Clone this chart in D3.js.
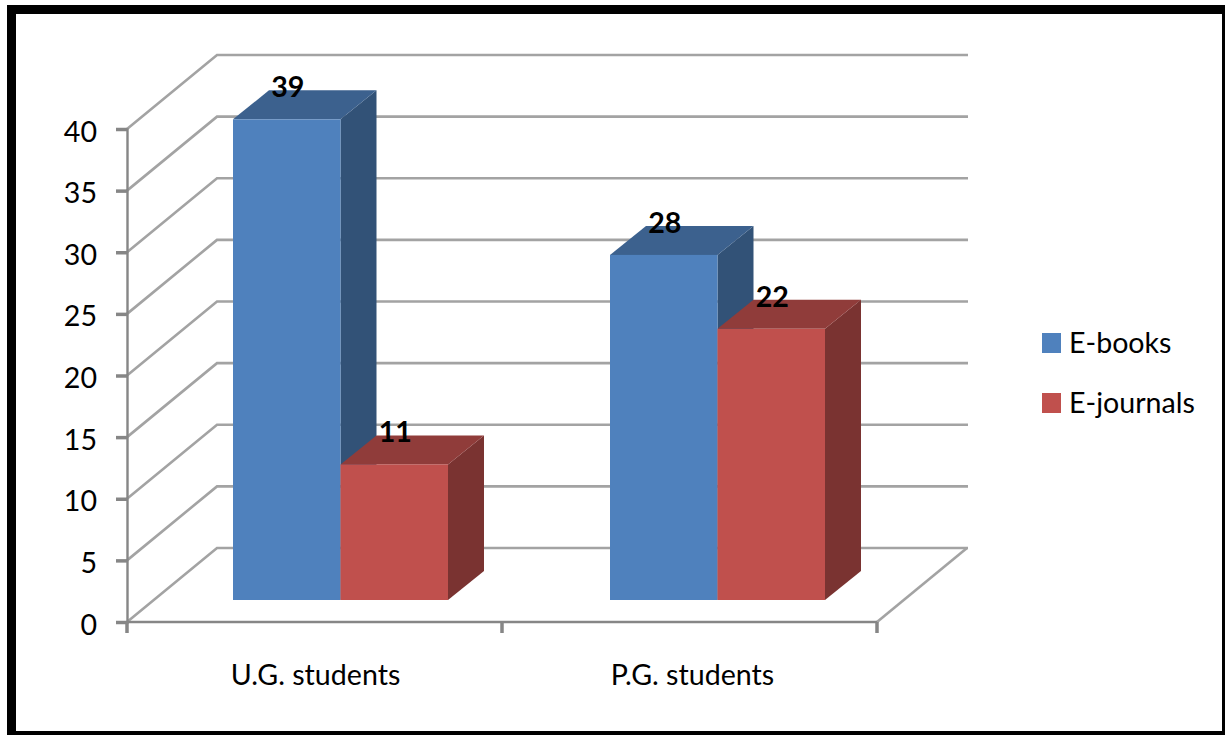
<!DOCTYPE html>
<html>
<head>
<meta charset="utf-8">
<script src="https://cdn.jsdelivr.net/npm/d3@7"></script>
<style>
  html, body { margin: 0; padding: 0; background: #fff; }
  svg { display: block; }
  text { font-family: Lato, "Open Sans", sans-serif; fill: #000; }
</style>
</head>
<body>
<svg id="chart" width="1225" height="735"></svg>
<script>
const categories = ["U.G. students", "P.G. students"];
const seriesNames = ["E-books", "E-journals"];
const eBooks = [39, 28];
const eJournals = [11, 22];
const yTicks = [0, 5, 10, 15, 20, 25, 30, 35, 40];

const faceColors = ["#4f81bd", "#c0504d"];
const topColors = ["#3c618e", "#903c3a"];
const sideColors = ["#325277", "#7a3331"];
const gridColor = "#a3a3a3";
const axisColor = "#868686";
const fontSize = 28.6;

const svg = d3.select("#chart");

// Heavy black frame round the chart, with a white panel inside
svg.append("rect")
  .attr("x", 7).attr("y", 5).attr("width", 1218).attr("height", 730).attr("fill", "#000");
svg.append("rect")
  .attr("x", 16).attr("y", 14).attr("width", 1206).attr("height", 717).attr("fill", "#fff");

// Front plane scales; the back wall is the front plane shifted by the depth vector
const y = d3.scaleLinear().domain([0, 40]).range([622, 129]);
const x = d3.scaleBand().domain(categories).range([127, 877]);
// Bars and category labels are spaced slightly wider than the axis bands
const xBars = d3.scaleBand().domain(categories).range([127, 881]);
const depth = { dx: 90, dy: -74 };
const barDepth = { dx: 36, dy: -29 };
const barLift = { dx: 25, dy: -22 };
const barWidth = 107.5;

// Wall gridlines: a diagonal on the side wall, then a run along the back
const grid = svg.append("g").attr("fill", "none").attr("stroke", gridColor).attr("stroke-width", 2.6);
yTicks.forEach(t => {
  const left = x.range()[0];
  const right = x.range()[1] + depth.dx;
  grid.append("path").attr("d", d3.line()([
    [left, y(t)],
    [left + depth.dx, y(t) + depth.dy],
    [right + 1, y(t) + depth.dy]
  ]));
});
// Right edge of the floor
grid.append("path").attr("d", d3.line()([
  [x.range()[1], y(0)],
  [x.range()[1] + depth.dx, y(0) + depth.dy]
]));

// Value axis
const yAxis = svg.append("g")
  .attr("transform", `translate(${x.range()[0]},0)`)
  .call(d3.axisLeft(y).tickValues(yTicks).tickSize(11).tickPadding(19));
yAxis.select(".domain").attr("stroke", axisColor).attr("stroke-width", 2.4);
yAxis.selectAll(".tick line").attr("stroke", axisColor).attr("stroke-width", 3.5);
yAxis.selectAll(".tick text")
  .attr("font-size", fontSize)
  .attr("dy", "0.42em")
  .style("font-family", "Lato")
  .attr("fill", "#000");

// Category axis, with a tick at each band edge
const xEdges = d3.scaleOrdinal().domain([0, 1, 2]).range([x.range()[0], x.range()[0] + x.bandwidth(), x.range()[1]]);
const xAxisGroup = svg.append("g");
xAxisGroup.append("line")
  .attr("x1", x.range()[0]).attr("x2", x.range()[1])
  .attr("y1", y(0)).attr("y2", y(0))
  .attr("stroke", axisColor).attr("stroke-width", 2.4);
xAxisGroup.selectAll("line.edge").data([0, 1, 2]).join("line")
  .attr("class", "edge")
  .attr("x1", d => xEdges(d)).attr("x2", d => xEdges(d))
  .attr("y1", y(0)).attr("y2", y(0) + 11)
  .attr("stroke", axisColor).attr("stroke-width", 3.5);
svg.append("g").selectAll("text").data(categories).join("text")
  .attr("x", d => xBars(d) + xBars.bandwidth() / 2)
  .attr("y", 685)
  .attr("text-anchor", "middle")
  .attr("font-size", fontSize)
  .text(d => d);

// Bars: each is a front face with a top and a side face
const series = [eBooks, eJournals];
const gap = (xBars.bandwidth() - barWidth * series.length) / 2;
const bars = svg.append("g");
const labels = [];
categories.forEach((cat, c) => {
  series.forEach((vals, s) => {
    const v = vals[c];
    const x0 = xBars(cat) + gap + barLift.dx + s * barWidth;
    const x1 = x0 + barWidth;
    const yb = y(0) + barLift.dy;
    const yt = y(v) + barLift.dy;
    const { dx, dy } = barDepth;
    bars.append("path").attr("fill", sideColors[s])
      .attr("d", d3.line()([[x1, yb], [x1 + dx, yb + dy], [x1 + dx, yt + dy], [x1, yt]]) + "Z");
    bars.append("path").attr("fill", topColors[s])
      .attr("d", d3.line()([[x0, yt], [x0 + dx, yt + dy], [x1 + dx, yt + dy], [x1, yt]]) + "Z");
    bars.append("rect").attr("fill", faceColors[s])
      .attr("x", x0).attr("y", yt).attr("width", barWidth).attr("height", yb - yt);
    labels.push({ v, x: x0 + barWidth / 2 + 1, y: yt });
  });
});

// Value labels straddling the back edge of each bar top
svg.append("g").selectAll("text").data(labels).join("text")
  .attr("x", d => d.x)
  .attr("y", d => d.y - 22)
  .attr("text-anchor", "middle")
  .attr("font-size", fontSize)
  .attr("font-weight", 700)
  .text(d => d.v);

// Legend
const legend = svg.append("g").selectAll("g").data(seriesNames).join("g")
  .attr("transform", (d, i) => `translate(1042,${333 + i * 60})`);
legend.append("rect")
  .attr("width", 19).attr("height", 20)
  .attr("fill", (d, i) => faceColors[i]);
legend.append("text")
  .attr("x", 27).attr("y", 20)
  .attr("font-size", fontSize)
  .text(d => d);
</script>
</body>
</html>
